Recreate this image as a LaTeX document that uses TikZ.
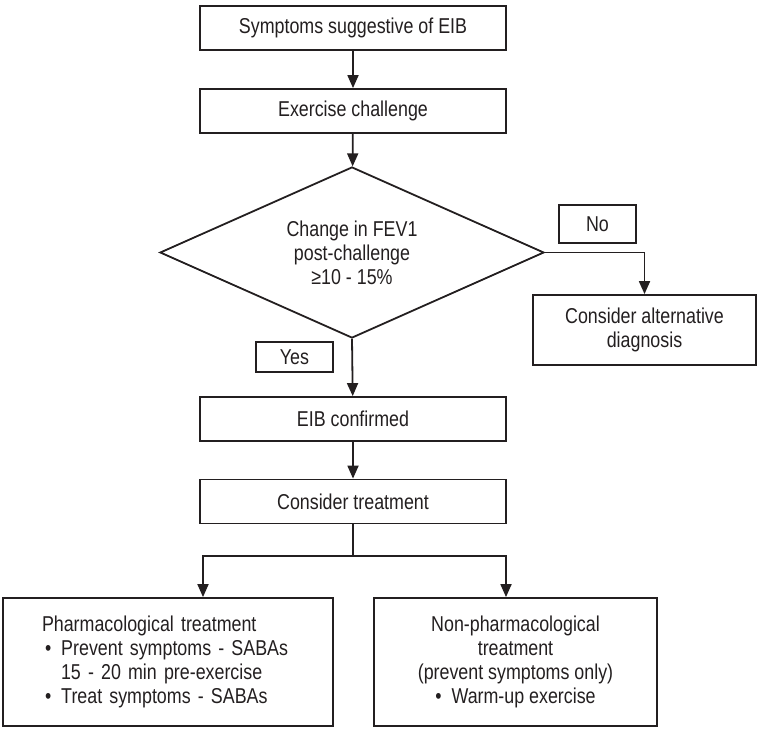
\documentclass[tikz,border=0pt]{standalone}
\usepackage{fontspec}
\setmainfont{Liberation Sans}[FakeStretch=0.83]
\usepackage{tikz}
\usetikzlibrary{shapes.geometric,arrows.meta}
\definecolor{lineblack}{RGB}{35, 31, 32}
\newcommand{\flowfont}{\fontsize{21.5pt}{24pt}\selectfont}
\newcommand{\listbullet}{\hspace*{3pt}•\hspace{10pt}}
\newcommand{\listindent}{\hspace*{19pt}}

\begin{document}
\begin{tikzpicture}[
        x=1pt, y=-1pt,
        box/.style={rectangle, draw=lineblack, line width=1.8pt, minimum width=306pt, minimum height=44pt, fill=white, text=lineblack, font=\flowfont, align=center},
        decision/.style={diamond, draw=lineblack, line width=1.8pt, aspect=2.25, inner sep=0pt, minimum width=384pt, minimum height=171pt, text=lineblack, font=\flowfont, align=center},
        answer/.style={rectangle, draw=lineblack, line width=1.8pt, minimum width=77pt, text=lineblack, font=\flowfont},
        outcome/.style={rectangle, draw=lineblack, line width=1.8pt, minimum height=128pt, text=lineblack, font=\flowfont},
        flow/.style={-{Triangle[length=13pt,width=11pt]}, line width=1.8pt, draw=lineblack},
        link/.style={line width=1.8pt, draw=lineblack}
    ]
    \useasboundingbox (0, 0) rectangle (757, 728);

    % Main column
    \node[box] (symptoms) at (353, 28) {Symptoms suggestive of EIB};
    \node[box] (challenge) at (353, 111) {Exercise challenge};
    \node[decision] (fev) at (352, 252.5) {Change in FEV1\\ post-challenge\\ ≥10 - 15\%};
    \node[box] (confirmed) at (353, 419) {EIB confirmed};
    \node[box] (treatment) at (353, 501.5) {Consider treatment};

    % Answers
    \node[answer, minimum height=38pt] (no) at (597.5, 224) {No};
    \node[answer, minimum height=30pt] (yes) at (294.5, 357) {Yes};
    \node[box, minimum width=223pt, minimum height=70pt] (alternative) at (644.5, 330) {Consider alternative\\ diagnosis};

    % Treatment options
    \node[outcome, inner xsep=39pt, text width=252pt, align=left] (pharma) at (168, 662) {Pharmacological treatment\\
        \listbullet Prevent symptoms - SABAs\\
        \listindent 15 - 20 min pre-exercise\\
        \listbullet Treat symptoms - SABAs};
    \node[outcome, minimum width=283pt, align=center] (nonpharma) at (515.5, 662) {Non-pharmacological\\ treatment\\ (prevent symptoms only)\\ •\hspace{10pt}Warm-up exercise};

    \coordinate (split) at (353, 556);

    % Connectors
    \draw[flow] (symptoms) -- (challenge);
    \draw[flow] (challenge) -- (fev);
    \draw[flow] (fev.south) -- (confirmed);
    \draw[flow] (fev.east) -| (alternative.north);
    \draw[flow] (confirmed) -- (treatment);
    \draw[link] (treatment) -- (split);
    \draw[flow] (split) -| ([xshift=35pt]pharma.north);
    \draw[flow] (split) -| ([xshift=-9.5pt]nonpharma.north);

    \end{tikzpicture}
\end{document}
